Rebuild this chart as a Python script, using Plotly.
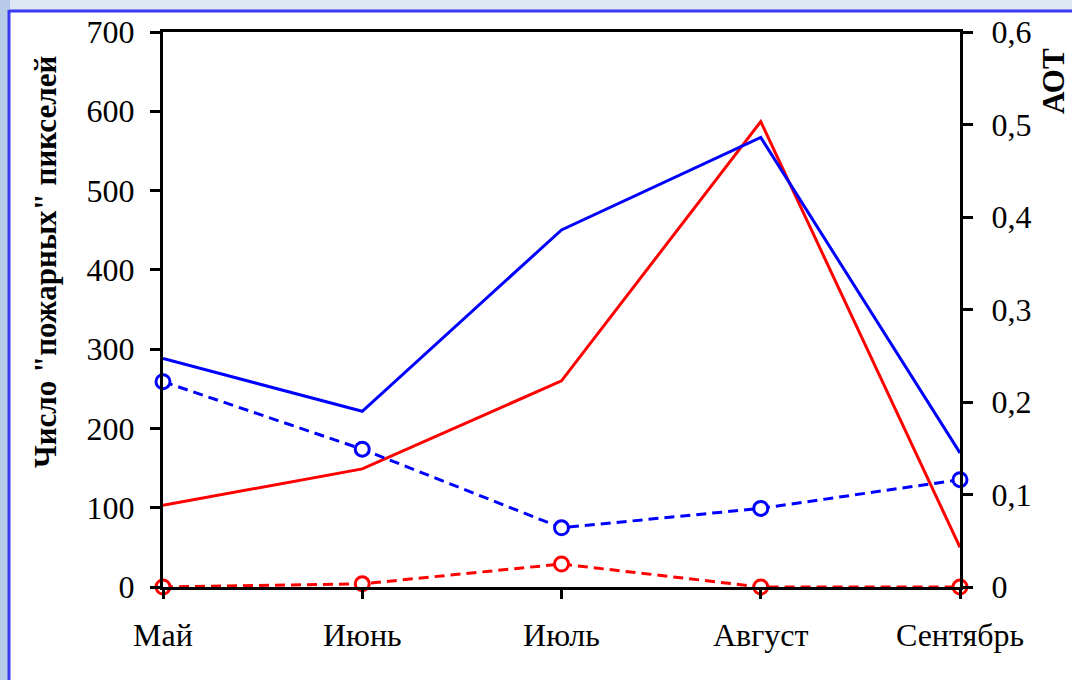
import plotly.graph_objects as go

# Months of the fire season
months = ["Май", "Июнь", "Июль", "Август", "Сентябрь"]

# Number of fire pixels (left axis)
fire_pixels_solid = [103, 149, 260, 587, 50]
fire_pixels_dashed = [0, 4, 29, 0, 0]

# Aerosol optical thickness (right axis)
aot_solid = [0.247, 0.190, 0.386, 0.486, 0.145]
aot_dashed = [0.222, 0.149, 0.064, 0.085, 0.116]

# Axis tick labels
pixel_ticks = [0, 100, 200, 300, 400, 500, 600, 700]
aot_tick_vals = [0, 0.1, 0.2, 0.3, 0.4, 0.5, 0.6]
aot_tick_text = ["0", "0,1", "0,2", "0,3", "0,4", "0,5", "0,6"]

RED = "#ff0000"
BLUE = "#0000ff"
DASH = "10px,6px"
SERIF = "Liberation Serif"
TICK_FONT = dict(family=SERIF, size=32, color="black")

fig = go.Figure()

fig.add_trace(go.Scatter(
    x=months, y=fire_pixels_solid, mode="lines",
    line=dict(color=RED, width=3), yaxis="y", cliponaxis=False))
fig.add_trace(go.Scatter(
    x=months, y=aot_solid, mode="lines",
    line=dict(color=BLUE, width=3), yaxis="y2", cliponaxis=False))
fig.add_trace(go.Scatter(
    x=months, y=aot_dashed, mode="lines+markers",
    line=dict(color=BLUE, width=3, dash=DASH),
    marker=dict(symbol="circle", size=14, color="white",
                line=dict(color=BLUE, width=3)),
    yaxis="y2", cliponaxis=False))
fig.add_trace(go.Scatter(
    x=months, y=fire_pixels_dashed, mode="lines+markers",
    line=dict(color=RED, width=3, dash=DASH),
    marker=dict(symbol="circle", size=14, color="white",
                line=dict(color=RED, width=3)),
    yaxis="y", cliponaxis=False))

fig.update_xaxes(
    type="category", range=[0, 4],
    showgrid=False, zeroline=False, showline=True, mirror=True,
    linecolor="black", linewidth=3,
    ticks="outside", tickcolor="black", tickwidth=3, ticklen=9,
    ticklabelstandoff=9, tickfont=TICK_FONT,
)

fig.update_layout(
    width=1072, height=680,
    margin=dict(l=163, r=112, t=32, b=93),
    font=dict(family=SERIF, color="black"),
    paper_bgcolor="#dfe7f5",
    plot_bgcolor="white",
    showlegend=False,
    yaxis=dict(
        range=[0, 700], tickvals=pixel_ticks,
        showgrid=False, zeroline=False, showline=True,
        linecolor="black", linewidth=3,
        ticks="outside", tickcolor="black", tickwidth=3, ticklen=10,
        ticklabelstandoff=9, tickfont=TICK_FONT,
    ),
    yaxis2=dict(
        overlaying="y", side="right", range=[0, 0.6],
        tickvals=aot_tick_vals, ticktext=aot_tick_text,
        showgrid=False, zeroline=False, showline=True,
        linecolor="black", linewidth=3,
        ticks="outside", tickcolor="black", tickwidth=3, ticklen=10,
        ticklabelstandoff=12, tickfont=TICK_FONT,
    ),
    shapes=[
        # light left strip of the frame
        dict(type="rect", xref="paper", yref="paper",
             x0=-163 / 797, x1=-153 / 797, y0=-93 / 555, y1=587 / 555,
             fillcolor="#b7cae8", line=dict(width=0), layer="below"),
        # white page inside the frame
        dict(type="rect", xref="paper", yref="paper",
             x0=-153 / 797, x1=909 / 797, y0=-93 / 555, y1=576 / 555,
             fillcolor="white", line=dict(width=0), layer="below"),
        # blue frame lines
        dict(type="line", xref="paper", yref="paper",
             x0=-154 / 797, x1=-154 / 797, y0=-93 / 555, y1=577 / 555,
             line=dict(color="#3a3af0", width=3), layer="below"),
        dict(type="line", xref="paper", yref="paper",
             x0=-154 / 797, x1=909 / 797, y0=576 / 555, y1=576 / 555,
             line=dict(color="#3a3af0", width=3), layer="below"),
    ],
    annotations=[
        dict(text='Число "пожарных" пикселей', xref="paper", yref="paper",
             x=-118 / 797, y=(587 - 262) / 555, textangle=-90,
             showarrow=False, xanchor="center", yanchor="middle",
             font=dict(family=SERIF, size=31, weight="bold")),
        dict(text="АОТ", xref="paper", yref="paper",
             x=(1053 - 163) / 797, y=(587 - 81) / 555, textangle=-90,
             showarrow=False, xanchor="center", yanchor="middle",
             font=dict(family=SERIF, size=31, weight="bold")),
    ],
)

fig.write_html("out.html")
